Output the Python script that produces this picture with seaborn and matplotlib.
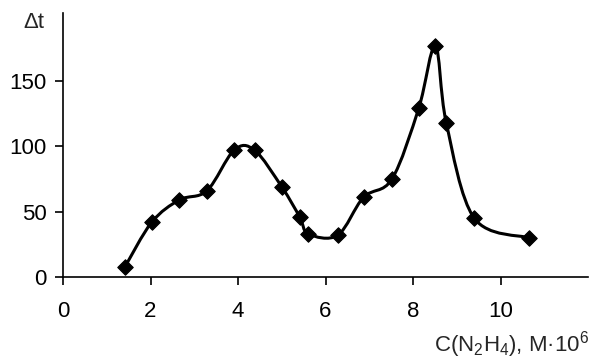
import matplotlib
matplotlib.use("Agg")
import matplotlib.pyplot as plt
import seaborn as sns
import numpy as np
import pandas as pd
from matplotlib.path import Path
from matplotlib.patches import PathPatch

# data
conc = [1.42, 2.03, 2.66, 3.29, 3.91, 4.38, 5.00, 5.41, 5.61, 6.28, 6.87, 7.52, 8.13, 8.51, 8.76, 9.40, 10.65]
delta_t = [8, 42, 59, 66, 97, 97, 69, 46, 33, 32, 61, 75, 129, 177, 118, 45, 30]
x_ticks = [0, 2, 4, 6, 8, 10]
y_ticks = [0, 50, 100, 150]

sns.set_style("ticks")
plt.rcParams['font.family'] = ['Liberation Sans', 'DejaVu Sans']
plt.rcParams['mathtext.default'] = 'regular'

fig = plt.figure(figsize=(5.92, 3.60), dpi=100)
ax = fig.add_axes([63/592, 1-277/360, 525/592, 264/360])

df = pd.DataFrame({"x": conc, "y": delta_t})

# smoothed line (Excel-style Bezier through the points)
pts = np.column_stack([df["x"].values, df["y"].values])
ext = np.vstack([pts[0], pts, pts[-1]])
verts = [tuple(pts[0])]
codes = [Path.MOVETO]
for i in range(1, len(ext) - 2):
    p0, p1, p2, p3 = ext[i-1], ext[i], ext[i+1], ext[i+2]
    c1 = p1 + (p2 - p0) / 6.0
    c2 = p2 - (p3 - p1) / 6.0
    verts += [tuple(c1), tuple(c2), tuple(p2)]
    codes += [Path.CURVE4] * 3
patch = PathPatch(Path(verts, codes), facecolor='none', edgecolor='black',
                  lw=2.2, transform=ax.transData, zorder=2, capstyle='round', joinstyle='round')
ax.add_patch(patch)

sns.scatterplot(data=df, x="x", y="y", marker="D", s=62, color="black",
                edgecolor="black", linewidth=0.8, ax=ax, zorder=3, legend=False)

ax.set_xlim(0, 12)
ax.set_ylim(0, 202)
ax.set_xticks(x_ticks)
ax.set_yticks(y_ticks)
ax.set_xlabel("")
ax.set_ylabel("")
for s in ["top", "right"]:
    ax.spines[s].set_visible(False)
for s in ["left", "bottom"]:
    ax.spines[s].set_linewidth(1.2)
    ax.spines[s].set_color("black")
ax.tick_params(axis='both', direction='out', length=6, width=1.2, color='black',
               labelsize=16, labelcolor='black')
ax.tick_params(axis='x', pad=11)
ax.tick_params(axis='y', pad=6)

fig.text(34/592, 1-22/360, "Δt", fontsize=16, ha='center', va='center')
fig.text(589/592, 1-351/360, "C(N$_2$H$_4$), M·10$^6$", fontsize=16, ha='right', va='baseline')

fig.savefig("out.png", dpi=100)
